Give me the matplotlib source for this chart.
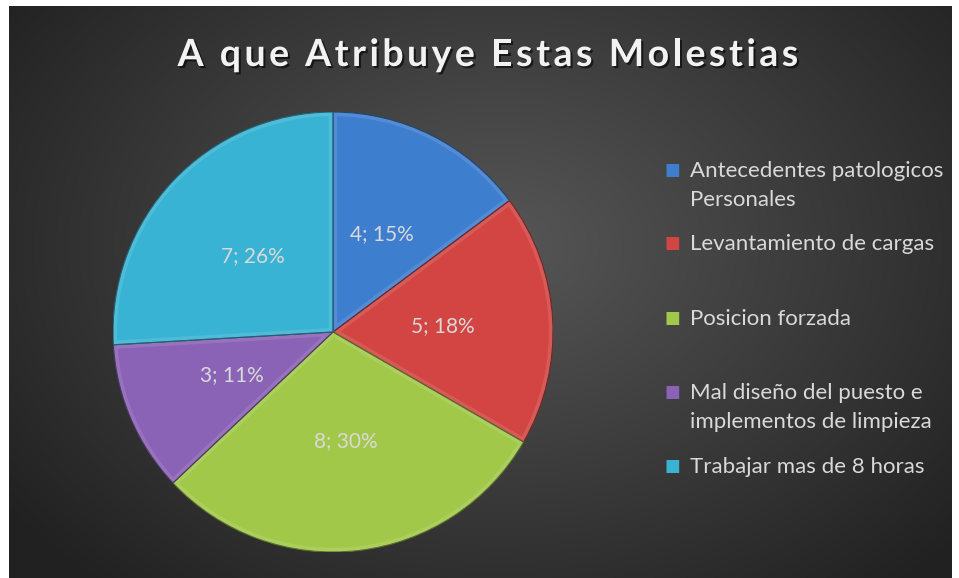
import matplotlib.pyplot as plt
import matplotlib.patheffects as pe
from matplotlib.patches import Wedge
from matplotlib.colors import to_rgb
import numpy as np

# ---------------------------------------------------------
# DATA
# ---------------------------------------------------------
categories = [
    "Antecedentes patologicos\nPersonales",
    "Levantamiento de cargas",
    "Posicion forzada",
    "Mal diseño del puesto e\nimplementos de limpieza",
    "Trabajar mas de 8 horas",
]
values = [4, 5, 8, 3, 7]
percents = [15, 18, 30, 11, 26]
colors = ["#3d7ecf", "#d24543", "#a2c84a", "#8a62b6", "#38b3d3"]

title = "A que Atribuye Estas Molestias"

W, H = 959, 578
fig = plt.figure(figsize=(W / 100, H / 100), dpi=100)
fig.patch.set_facecolor("white")
renderer = fig.canvas.get_renderer()

# ---------------------------------------------------------
# BACKGROUND (radial gradient, dark grey)
# ---------------------------------------------------------
x0, x1, y0, y1 = 9, 952, 0, 572  # pixel box, y from bottom
bg = fig.add_axes([x0 / W, y0 / H, (x1 - x0) / W, (y1 - y0) / H])
gx, gy = np.meshgrid(np.linspace(0, 1, 400), np.linspace(0, 1, 250))
d = np.sqrt(((gx - 0.52) / 0.62) ** 2 + ((gy - 0.58) / 0.75) ** 2)
shade = np.clip(0.34 - 0.20 * d, 0.13, 0.34)
bg.imshow(np.dstack([shade] * 3), extent=[0, 1, 0, 1], aspect="auto", origin="lower")
bg.axis("off")

# ---------------------------------------------------------
# PIE
# ---------------------------------------------------------
cx, cy, r = 333, 578 - 332, 220
ax = fig.add_axes([(cx - r) / W, (cy - r) / H, 2 * r / W, 2 * r / H])
ax.axis("off")

pct_iter = iter(zip(values, percents))
wedges, texts, autotexts = ax.pie(
    values,
    colors=colors,
    startangle=90,
    counterclock=False,
    radius=1,
    autopct=lambda p: "%d; %d%%" % next(pct_iter),
    pctdistance=0.5,
    textprops=dict(color="#d9d9d9", fontsize=15, family="Lato"),
    wedgeprops=dict(linewidth=0),
)
ax.set_xlim(-1, 1)
ax.set_ylim(-1, 1)

# bevel look: lighter rim inside each wedge + thin dark outline
for w, c in zip(wedges, colors):
    light = tuple(min(1, v * 0.75 + 0.25) for v in to_rgb(c))
    dark = tuple(v * 0.55 for v in to_rgb(c))
    rim = Wedge(w.center, w.r, w.theta1, w.theta2, facecolor="none",
                edgecolor=light, linewidth=6, alpha=0.45)
    ax.add_patch(rim)
    rim.set_clip_path(w)
    ax.add_patch(Wedge(w.center, w.r, w.theta1, w.theta2, facecolor="none",
                       edgecolor=dark, linewidth=0.8))
for t in autotexts:
    t.set_zorder(5)

# ---------------------------------------------------------
# TITLE (letter-spaced, drawn char by char)
# ---------------------------------------------------------
title_kw = dict(fontsize=27, fontweight="bold", family="Lato", color="#f2f2f2")
spacing = 3.5  # extra px between letters


def text_width(s):
    if not s:
        return 0.0
    t = fig.text(0, 0, s.replace(" ", "\u00a0"), **title_kw)
    wpx = t.get_window_extent(renderer).width
    t.remove()
    return wpx


full_w = text_width(title) + spacing * (len(title) - 1)
left = 488 - full_w / 2
shadow = [pe.withSimplePatchShadow(offset=(1.5, -1.5), shadow_rgbFace="black", alpha=0.6)]
for i, ch in enumerate(title):
    if ch == " ":
        continue
    xp = left + text_width(title[:i]) + spacing * i
    fig.text(xp / W, 1 - 55 / H, ch, ha="left", va="center",
             path_effects=shadow, **title_kw)

# ---------------------------------------------------------
# LEGEND
# ---------------------------------------------------------
legend_y = [170, 243, 318, 392, 466]  # first line centre, px from top
for lab, c, y in zip(categories, colors, legend_y):
    fig.text(672 / W, 1 - y / H, "\u25A0", ha="center", va="center",
             fontsize=12, color=c, family="DejaVu Sans")
    fig.text(690 / W, 1 - (y - 9) / H, lab, ha="left", va="top",
             fontsize=16, family="Lato", color="#d9d9d9", linespacing=1.55)

plt.savefig("out.png", dpi=100, facecolor=fig.get_facecolor())
